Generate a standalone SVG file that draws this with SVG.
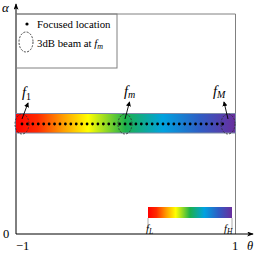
<svg xmlns="http://www.w3.org/2000/svg" width="258" height="254" viewBox="0 0 258 254">
<style>
.t{font-family:"Liberation Serif","Times New Roman",serif;fill:#000}
.i{font-style:italic}
.beam{fill:none;stroke:#333;stroke-width:0.9;stroke-dasharray:2 1.4}
.ptr{stroke:#000;stroke-width:0.9;fill:none;marker-end:url(#ah)}
.frame{fill:none;stroke:#808080;stroke-width:1}
</style>
<defs>
<linearGradient id="rb" x1="0" y1="0" x2="1" y2="0">
<stop offset="0" stop-color="#ff0000"/>
<stop offset="0.1" stop-color="#ff2a00"/>
<stop offset="0.22" stop-color="#ffa000"/>
<stop offset="0.33" stop-color="#ffff00"/>
<stop offset="0.5" stop-color="#1cb04c"/>
<stop offset="0.67" stop-color="#00a2e0"/>
<stop offset="0.84" stop-color="#2f5cc4"/>
<stop offset="1" stop-color="#6a2e9e"/>
</linearGradient>
<marker id="ah" viewBox="0 0 6 6" refX="5" refY="3" markerWidth="5" markerHeight="5" orient="auto" markerUnits="userSpaceOnUse">
<path d="M0,0 L6,3 L0,6 Z" fill="#000"/>
</marker>
<marker id="ax" viewBox="0 0 8 6" refX="7" refY="3" markerWidth="7" markerHeight="5" orient="auto" markerUnits="userSpaceOnUse">
<path d="M0,0 L8,3 L0,6 L2,3 Z" fill="#000"/>
</marker>
</defs>

<g id="frame">
<path class="frame" d="M16,14 H235.5 V234"/>
</g>

<g id="axes">
<line x1="16" y1="234" x2="16" y2="4" stroke="#000" stroke-width="1" marker-end="url(#ax)"/>
<line x1="16" y1="234" x2="253" y2="234" stroke="#000" stroke-width="1" marker-end="url(#ax)"/>
<text class="t i" x="2" y="12" font-size="13">α</text>
<text class="t" x="3" y="238" font-size="12.5">0</text>
<text class="t" x="16" y="250" font-size="12.5">−1</text>
<text class="t" x="232" y="250" font-size="12.5">1</text>
<text class="t i" x="247" y="250" font-size="12.5">θ</text>
</g>

<g id="legend">
<rect x="16" y="14" width="101" height="54" class="frame"/>
<circle cx="27" cy="24" r="1.6" fill="#000"/>
<text class="t" x="37" y="28" font-size="10.8">Focused location</text>
<ellipse cx="26" cy="42" rx="7" ry="10" class="beam"/>
<text class="t" x="37" y="47" font-size="10.8">3dB beam at <tspan class="i">f</tspan><tspan class="i" font-size="8" dy="2">m</tspan></text>
</g>

<g id="band">
<rect x="15.5" y="113.5" width="220" height="19.5" fill="url(#rb)" stroke="#7d8aa6" stroke-width="1"/>
<line x1="22" y1="124" x2="228.1" y2="124" stroke="#000" stroke-width="2.8" stroke-linecap="round" stroke-dasharray="0 5.4237"/>
</g>

<g id="beam-f1">
<ellipse cx="22" cy="124" rx="7" ry="10" class="beam"/>
<text class="t i" x="22" y="97" font-size="14.5">f<tspan font-size="10" dy="3" font-style="normal">1</tspan></text>
</g>
<g id="beam-fm">
<ellipse cx="125" cy="124" rx="7" ry="10" class="beam"/>
<text class="t i" x="124" y="96" font-size="14.5">f<tspan font-size="10" dy="2">m</tspan></text>
</g>
<g id="beam-fM">
<ellipse cx="228" cy="124" rx="7" ry="10" class="beam"/>
<text class="t i" x="213" y="96" font-size="14.5">f<tspan font-size="10" dy="2">M</tspan></text>
</g>

<g id="connectors">
<line class="ptr" x1="22" y1="119" x2="28" y2="103"/>
<line class="ptr" x1="125" y1="119" x2="129.5" y2="102"/>
<line class="ptr" x1="228" y1="119" x2="224" y2="102"/>
</g>

<g id="colorbar">
<rect x="148" y="207" width="84" height="11" fill="url(#rb)"/>
<path d="M148,218 V229 M232,218 V229" stroke="#999" stroke-width="0.8"/>
<text class="t i" x="146" y="232" font-size="10.5">f<tspan font-size="7.5" dy="1.5">L</tspan></text>
<text class="t i" x="224" y="232" font-size="10.5">f<tspan font-size="7.5" dy="1.5">H</tspan></text>
</g>
</svg>
